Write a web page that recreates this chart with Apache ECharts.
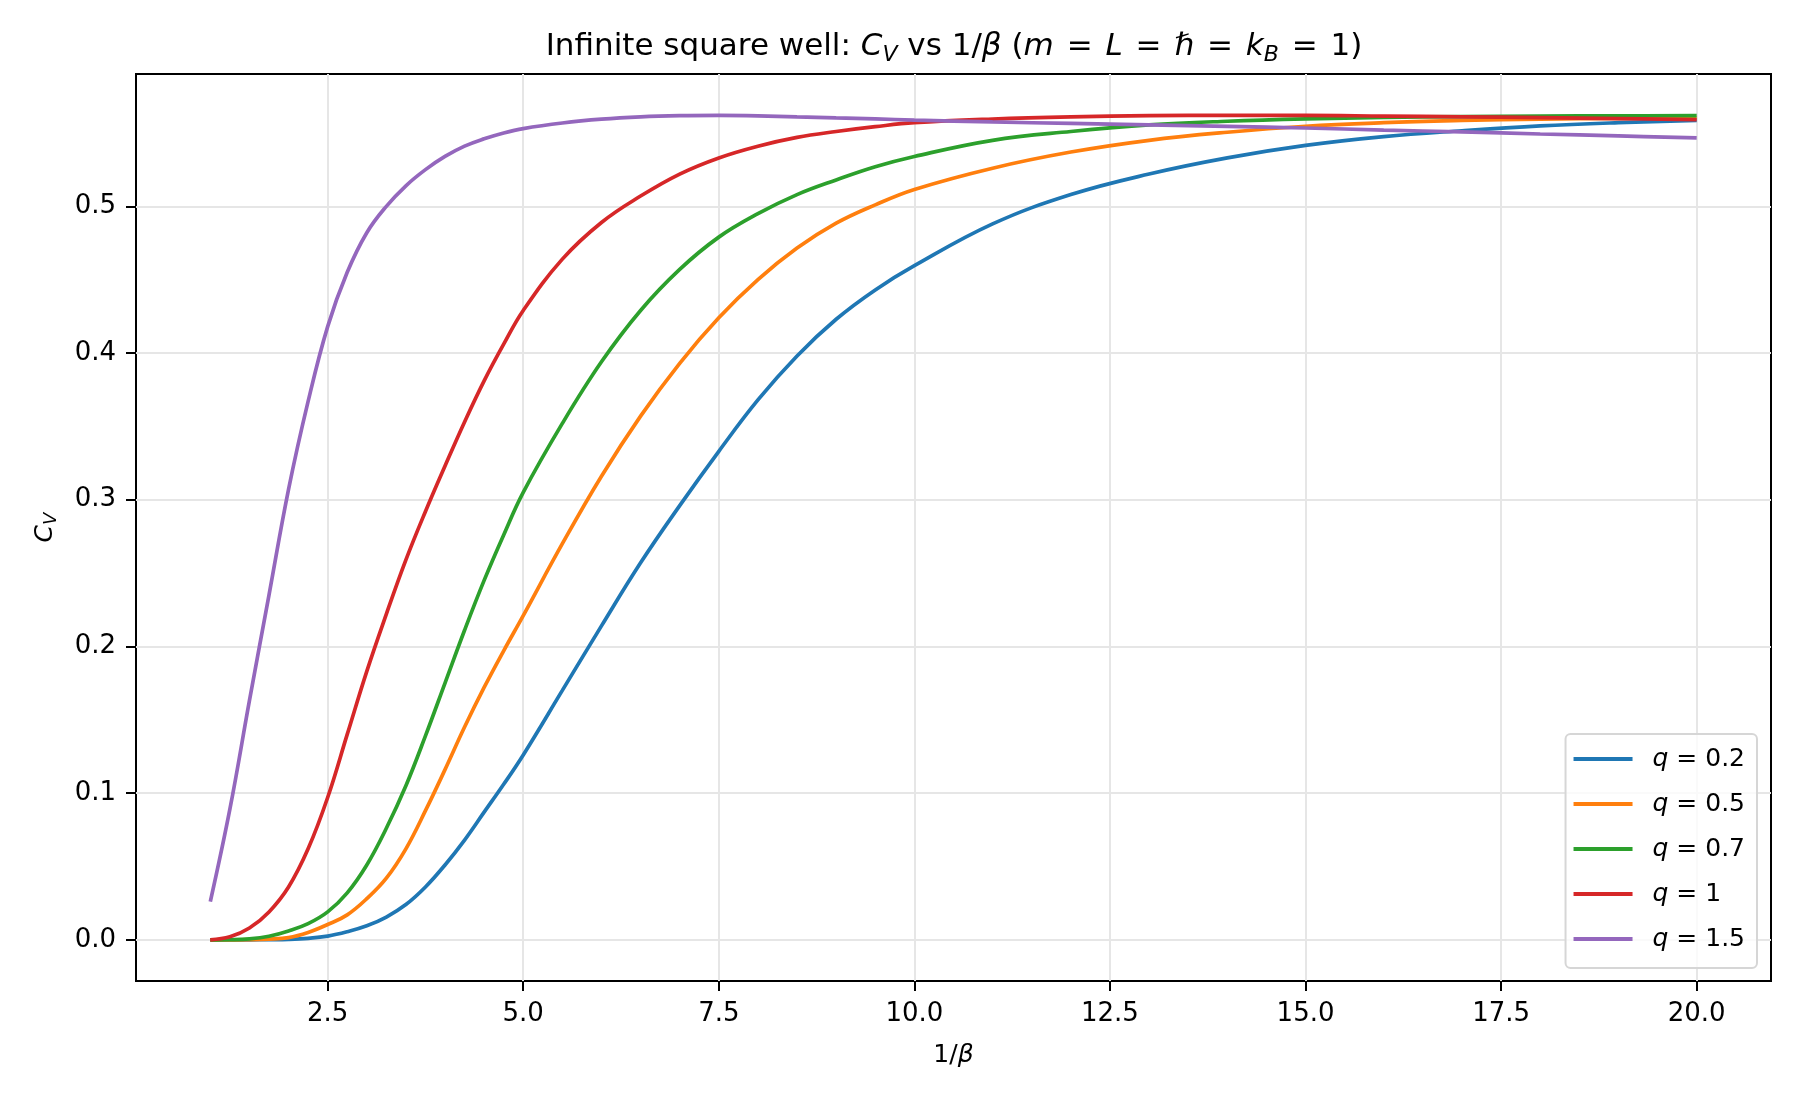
<!DOCTYPE html>
<html>
<head>
<meta charset="utf-8">
<title>Infinite square well: C_V vs 1/beta</title>
<script src="https://cdn.jsdelivr.net/npm/echarts@6.0.0/dist/echarts.min.js"></script>
<style>
  html, body { margin: 0; padding: 0; background: #ffffff; }
  #chart { width: 1800px; height: 1100px; }
</style>
</head>
<body>
<div id="chart"></div>
<script>
// 1/beta sample points
var invBeta = [1, 1.25, 1.5, 1.75, 2, 2.25, 2.5, 2.75, 3, 3.25, 3.5, 3.75, 4, 4.25, 4.5, 4.75, 5,
  5.5, 6, 6.5, 7, 7.5, 8, 8.5, 9, 9.5,
  10, 11, 12, 13, 14, 15, 16, 17, 18, 19, 20];

// C_V for each q
var cvQ02 = [0, 0, 0, 0.0001, 0.0003, 0.001, 0.0025, 0.0055, 0.0095, 0.0155, 0.024, 0.036, 0.051, 0.068, 0.087, 0.106, 0.126,
  0.170, 0.214, 0.257, 0.296, 0.333, 0.368, 0.398, 0.423, 0.443,
  0.4595, 0.488, 0.508, 0.522, 0.533, 0.5415, 0.5475, 0.5515, 0.5548, 0.557, 0.5586];
var cvQ05 = [0, 0, 0.0001, 0.0005, 0.0015, 0.005, 0.0104, 0.017, 0.028, 0.042, 0.062, 0.088, 0.116, 0.145, 0.172, 0.197, 0.221,
  0.270, 0.316, 0.357, 0.393, 0.424, 0.450, 0.4715, 0.4885, 0.501,
  0.5115, 0.526, 0.537, 0.545, 0.5505, 0.5546, 0.557, 0.5585, 0.5595, 0.560, 0.5602];
var cvQ07 = [0, 0.0001, 0.0006, 0.0024, 0.006, 0.011, 0.019, 0.032, 0.051, 0.076, 0.105, 0.139, 0.175, 0.211, 0.245, 0.276, 0.305,
  0.352, 0.394, 0.429, 0.457, 0.479, 0.495, 0.508, 0.518, 0.527,
  0.534, 0.545, 0.551, 0.5555, 0.558, 0.5596, 0.5606, 0.5612, 0.5615, 0.5617, 0.5618];
var cvQ1 = [0, 0.002, 0.008, 0.019, 0.036, 0.062, 0.097, 0.140, 0.183, 0.222, 0.259, 0.292, 0.323, 0.353, 0.381, 0.406, 0.429,
  0.464, 0.489, 0.507, 0.522, 0.533, 0.541, 0.547, 0.551, 0.5543,
  0.557, 0.5595, 0.561, 0.5618, 0.562, 0.562, 0.5615, 0.561, 0.5605, 0.5598, 0.559];
var cvQ15 = [0.026, 0.089, 0.163, 0.235, 0.307, 0.367, 0.418, 0.455, 0.482, 0.500, 0.514, 0.525, 0.534, 0.541, 0.546, 0.550, 0.553,
  0.5568, 0.5594, 0.561, 0.5618, 0.562, 0.5617, 0.561, 0.5603, 0.5596,
  0.5588, 0.5575, 0.5565, 0.5555, 0.5545, 0.5534, 0.552, 0.5507, 0.5493, 0.548, 0.5466];

var qNames = ['q = 0.2', 'q = 0.5', 'q = 0.7', 'q = 1', 'q = 1.5'];
var xTicks = [2.5, 5, 7.5, 10, 12.5, 15, 17.5, 20];
var yTicks = [0, 0.1, 0.2, 0.3, 0.4, 0.5];

var colors = ['#1f77b4', '#ff7f0e', '#2ca02c', '#d62728', '#9467bd'];
var allCurves = [cvQ02, cvQ05, cvQ07, cvQ1, cvQ15];
var font = 'DejaVu Sans';

var chart = echarts.init(document.getElementById('chart'));

var mathRich = {
  i: { fontFamily: font, fontStyle: 'italic', fontSize: 25, lineHeight: 30 },
  sub: { fontFamily: font, fontStyle: 'italic', fontSize: 18, lineHeight: 18, verticalAlign: 'bottom' }
};

var option = {
  animation: false,
  backgroundColor: '#ffffff',
  color: colors,
  graphic: [{
    type: 'text',
    x: 954,
    y: 47,
    style: {
      text: 'Infinite square well: {i|C}{sub|V} vs 1/{i|β} ({i|m} {eq|=} {i|L} {eq|=} {i|ℏ} {eq|=} {i|k}{sub|B} {eq|=} 1)',
      fontFamily: font,
      fontSize: 31,
      lineHeight: 38,
      fill: '#000',
      align: 'center',
      verticalAlign: 'middle',
      rich: {
        i: { fontFamily: font, fontStyle: 'italic', fontSize: 31, lineHeight: 38 },
        eq: { fontFamily: font, fontSize: 31, lineHeight: 38, padding: [0, 3, 0, 3] },
        sub: { fontFamily: font, fontStyle: 'italic', fontSize: 22, lineHeight: 24, verticalAlign: 'bottom' }
      }
    }
  }],
  grid: {
    left: 136,
    right: 29,
    top: 74,
    bottom: 119,
    show: true,
    borderColor: '#000',
    borderWidth: 2,
    containLabel: false,
    outerBoundsMode: 'none'
  },
  legend: {
    orient: 'vertical',
    right: 43,
    top: 734,
    data: qNames,
    icon: 'rect',
    itemWidth: 59,
    itemHeight: 4,
    itemGap: 15,
    padding: [10, 12, 14, 8],
    backgroundColor: 'rgba(255,255,255,0.8)',
    borderColor: '#d6d6d6',
    borderWidth: 2,
    borderRadius: 5,
    formatter: function (name) {
      return name.replace('q', '{i|q}');
    },
    textStyle: {
      fontFamily: font,
      fontSize: 25,
      lineHeight: 30,
      color: '#000',
      padding: [0, 0, 0, 15],
      rich: mathRich
    }
  },
  xAxis: {
    type: 'value',
    min: 0.05,
    max: 20.95,
    name: '1/{i|β}',
    nameLocation: 'middle',
    nameGap: 59,
    nameTextStyle: { fontFamily: font, fontSize: 25, color: '#000', rich: mathRich },
    axisLine: { show: false, onZero: false },
    axisTick: { show: true, length: 10, customValues: xTicks, lineStyle: { color: '#000', width: 2 } },
    axisLabel: {
      customValues: xTicks,
      margin: 20,
      fontFamily: font,
      fontSize: 26,
      color: '#000',
      formatter: function (v) { return v.toFixed(1); }
    },
    splitLine: { show: true, lineStyle: { color: '#e6e6e6', width: 2 } }
  },
  yAxis: {
    type: 'value',
    min: -0.0281,
    max: 0.5902,
    name: '{i|C}{sub|V}',
    nameLocation: 'middle',
    nameGap: 76,
    nameRotate: 90,
    nameTextStyle: { fontFamily: font, fontSize: 25, color: '#000', rich: mathRich },
    axisLine: { show: false, onZero: false },
    axisTick: { show: true, length: 10, customValues: yTicks, lineStyle: { color: '#000', width: 2 } },
    axisLabel: {
      customValues: yTicks,
      margin: 20,
      fontFamily: font,
      fontSize: 26,
      color: '#000',
      formatter: function (v) { return v.toFixed(1); }
    },
    splitLine: { show: true, lineStyle: { color: '#e6e6e6', width: 2 } }
  },
  series: allCurves.map(function (ys, k) {
    return {
      name: qNames[k],
      type: 'line',
      data: invBeta.map(function (x, i) { return [x, ys[i]]; }),
      showSymbol: false,
      smooth: 0.4,
      lineStyle: { width: 3.7, color: colors[k] },
      itemStyle: { color: colors[k] },
      emphasis: { disabled: true }
    };
  })
};

chart.setOption(option);
</script>
</body>
</html>
